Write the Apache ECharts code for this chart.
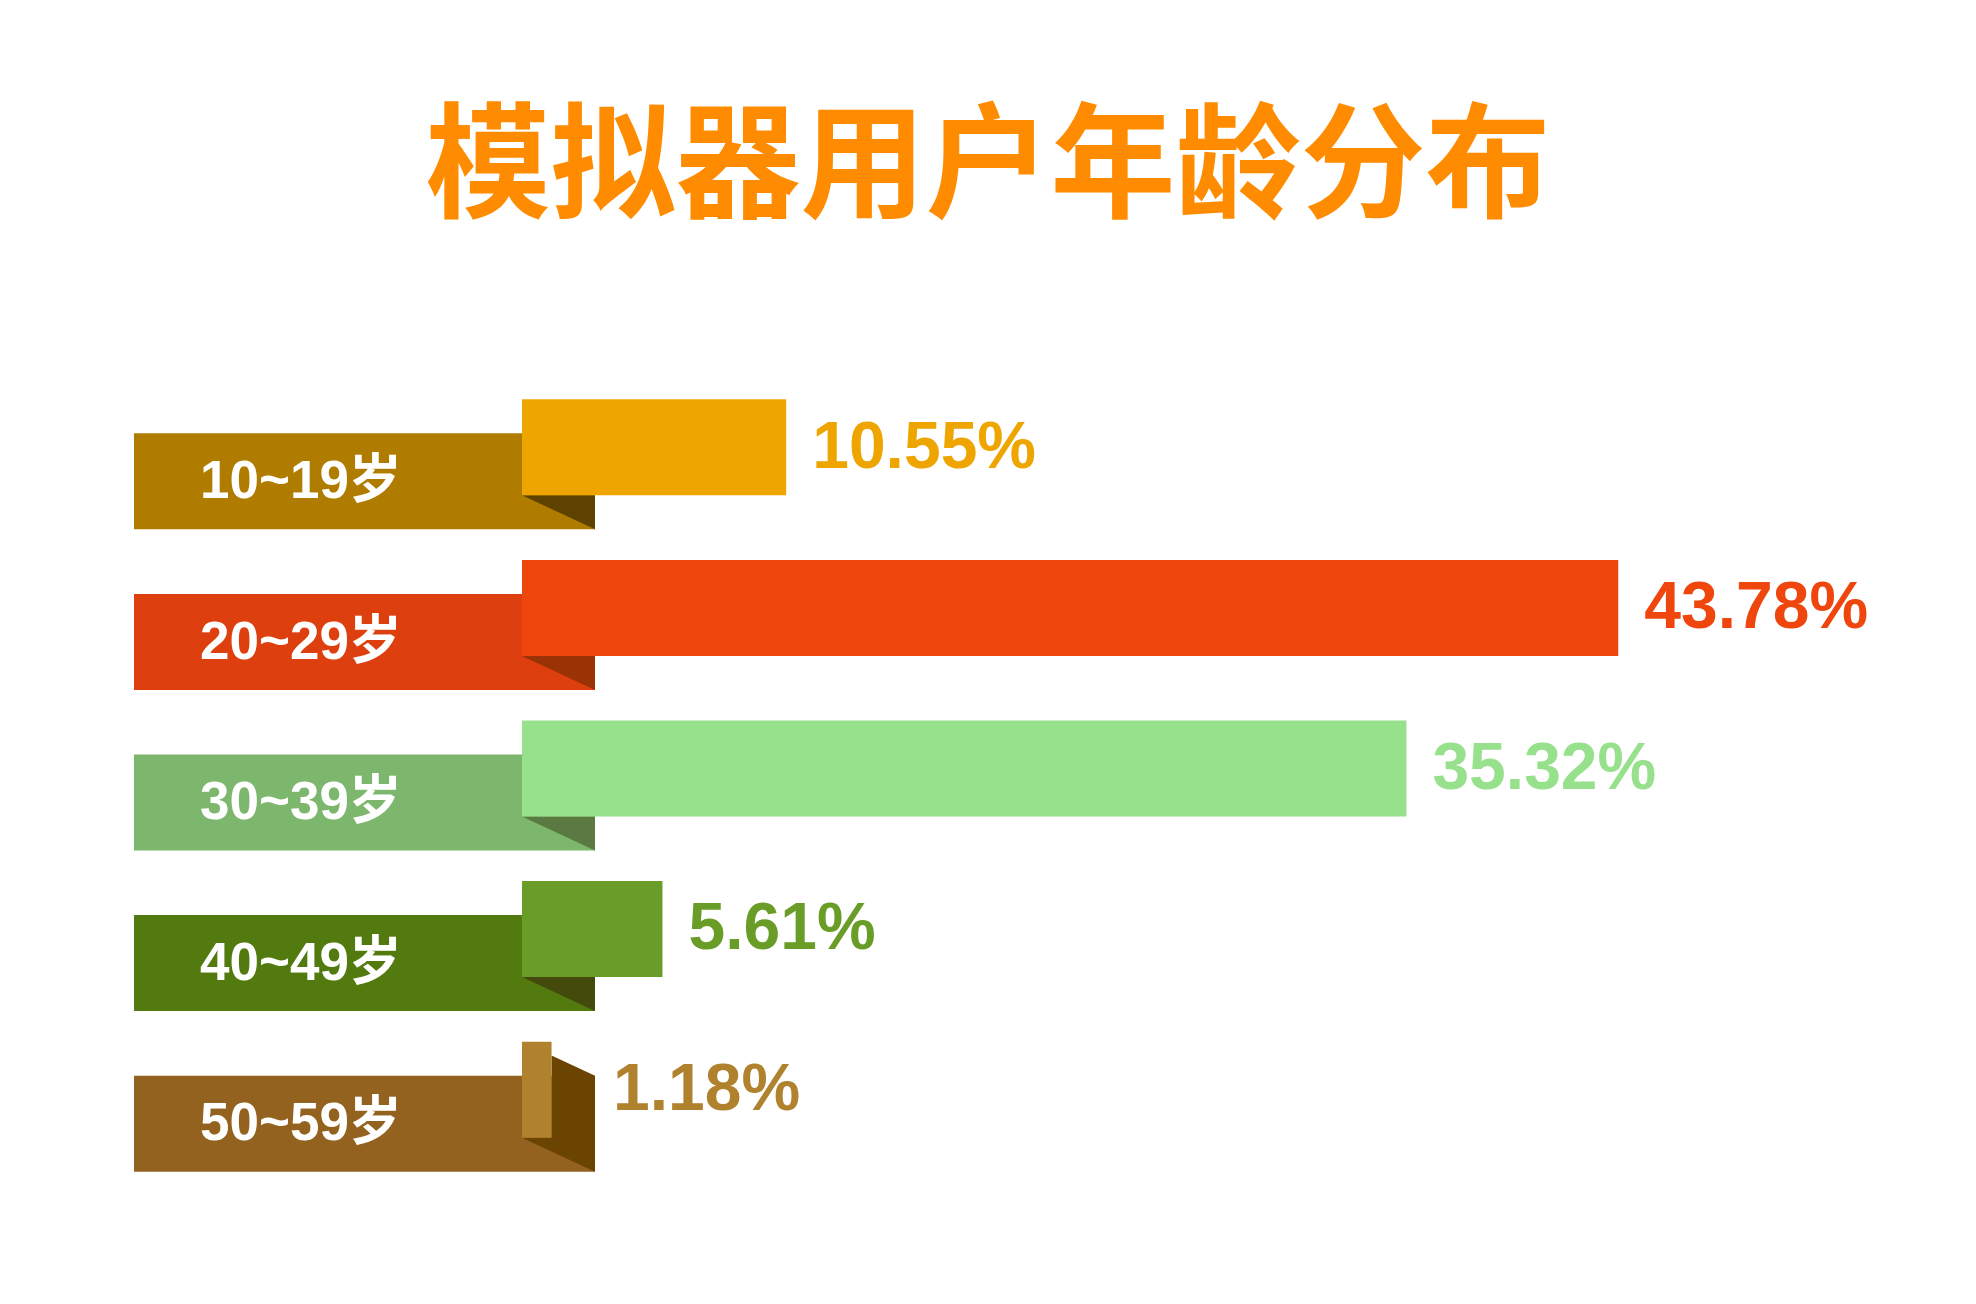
<!DOCTYPE html>
<html>
<head>
<meta charset="utf-8">
<script src="https://cdn.jsdelivr.net/npm/echarts@6/dist/echarts.min.js"></script>
<style>
  html, body { margin: 0; padding: 0; background: #fff; }
  #main { width: 1976px; height: 1304px; }
</style>
</head>
<body>
<div id="main"></div>
<script>
// 数据
var titleText = '模拟器用户年龄分布';
var ageGroups = ['10~19岁', '20~29岁', '30~39岁', '40~49岁', '50~59岁'];
var sharePct = [10.55, 43.78, 35.32, 5.61, 1.18];

// 每行配色：底条 / 主条 / 折角阴影
var bandColors = ['#B07C00', '#DE3F0E', '#7DB66D', '#537A0F', '#93621E'];
var barColors = ['#EFA500', '#EF460E', '#97E08C', '#6A9D28', '#B0822E'];
var shadowColors = ['#5E4200', '#9A3205', '#5A7A42', '#444A0B', '#6B4402'];

var chart = echarts.init(document.getElementById('main'));

var seriesData = sharePct.map(function (v, i) {
  return [i, v];
});

function renderRibbon(params, api) {
  var i = params.dataIndex;
  var cat = api.value(0);
  var start = api.coord([0, cat]);
  var end = api.coord([api.value(1), cat]);
  var cy = start[1];
  var barLeft = start[0];
  var barRight = end[0];
  var bandLeft = barLeft - 388;
  var bandRight = barLeft + 73;
  var bandTop = cy - 31, bandBottom = cy + 65;
  var barTop = cy - 65, barBottom = cy + 31;
  var slope = (bandBottom - barBottom) / (bandRight - barLeft);

  // 折角阴影，短条时阴影露在条的右侧
  var shadowPts;
  if (barRight >= bandRight) {
    shadowPts = [[barLeft, barBottom], [bandRight, barBottom], [bandRight, bandBottom]];
  } else {
    shadowPts = [
      [barLeft, barBottom], [barRight, barBottom],
      [barRight, bandTop - (bandRight - barRight) * slope],
      [bandRight, bandTop], [bandRight, bandBottom]
    ];
  }
  var labelX = barRight >= bandRight ? barRight + 26 : bandRight + 18;

  return {
    type: 'group',
    children: [
      {
        type: 'rect',
        shape: { x: bandLeft, y: bandTop, width: bandRight - bandLeft, height: bandBottom - bandTop },
        style: { fill: bandColors[i] }
      },
      {
        type: 'polygon',
        shape: { points: shadowPts },
        style: { fill: shadowColors[i] }
      },
      {
        type: 'rect',
        shape: { x: barLeft, y: barTop, width: barRight - barLeft, height: barBottom - barTop },
        style: { fill: barColors[i] }
      },
      {
        type: 'text',
        style: {
          text: ageGroups[i],
          x: bandLeft + 66,
          y: (bandTop + bandBottom) / 2 + 2,
          fill: '#ffffff',
          fontSize: 53,
          fontWeight: 'bold',
          fontFamily: '"Liberation Sans", Arial, "Noto Sans CJK SC", sans-serif',
          verticalAlign: 'middle',
          align: 'left'
        }
      },
      {
        type: 'text',
        style: {
          text: sharePct[i].toFixed(2) + '%',
          x: labelX,
          y: (barTop + barBottom) / 2 + 2,
          fill: barColors[i],
          fontSize: 66,
          fontWeight: 'bold',
          fontFamily: '"Liberation Sans", Arial, sans-serif',
          verticalAlign: 'middle',
          align: 'left'
        }
      }
    ]
  };
}

var option = {
  backgroundColor: '#ffffff',
  animation: false,
  title: {
    text: titleText,
    left: 'center',
    top: 93,
    textStyle: {
      color: '#FF8C00',
      fontSize: 125,
      fontWeight: 'bold',
      fontFamily: '"Noto Sans CJK SC", sans-serif'
    }
  },
  grid: {
    left: 522,
    right: 202,
    top: 384,
    bottom: 117
  },
  xAxis: {
    type: 'value',
    min: 0,
    max: 50,
    show: false
  },
  yAxis: {
    type: 'category',
    data: ageGroups,
    inverse: true,
    show: false
  },
  series: [
    {
      type: 'custom',
      renderItem: renderRibbon,
      clip: false,
      encode: { x: 1, y: 0 },
      data: seriesData
    }
  ]
};

chart.setOption(option);
</script>
</body>
</html>
